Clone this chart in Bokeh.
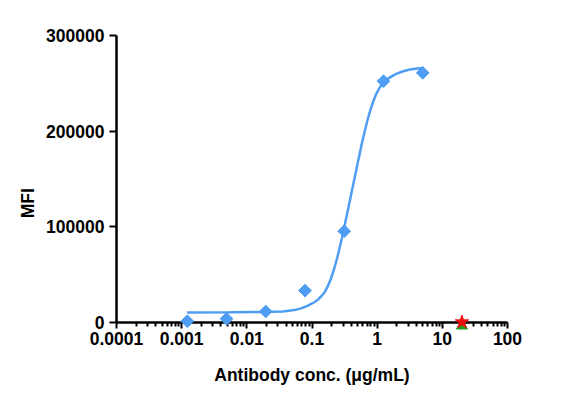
from bokeh.plotting import figure
from bokeh.models import FixedTicker, CustomJSTickFormatter
from bokeh.embed import file_html
from bokeh.resources import INLINE
import math

# measured points (4-fold dilution from 5 ug/mL)
conc = [0.00122, 0.00488, 0.0195, 0.078, 0.3125, 1.25, 5.0]
mfi = [1400, 3900, 11500, 33400, 95400, 252200, 261000]

# fitted curve
fit_conc = [0.001214, 0.0056, 0.0162, 0.0354, 0.0537, 0.0698, 0.0868, 0.1066,
            0.1232, 0.1379, 0.1561, 0.1735, 0.1929, 0.216, 0.2435, 0.2895,
            0.3453, 0.4121, 0.4917, 0.5867, 0.6976, 0.7863, 0.8808, 0.979,
            1.088, 1.227, 1.379, 1.594, 1.956, 2.435, 3.162, 4.797]
fit_mfi = [10450, 10660, 10980, 11390, 12960, 15050, 17670, 20910,
           23830, 27180, 31570, 37420, 44950, 54880, 67420, 88850,
           113400, 138500, 163600, 188200, 209600, 222100, 232100, 239600,
           245400, 250200, 253600, 256500, 259800, 262400, 264500, 266000]

# controls at 20 ug/mL
ctrl_conc = [20.0]
ctrl_star = [500]
ctrl_tri = [-3500]

x_ticks = [0.0001, 0.001, 0.01, 0.1, 1, 10, 100]
y_ticks = [0, 100000, 200000, 300000]

BLUE = "#4e9df2"
FONT = "Liberation Sans"

p = figure(width=556, height=398, x_axis_type="log",
           x_range=(0.0001, 100), y_range=(0, 300000),
           output_backend="svg", toolbar_location=None,
           min_border_left=116, min_border_right=49,
           min_border_top=35, min_border_bottom=76)
p.outline_line_color = None
p.grid.visible = False

p.line(fit_conc, fit_mfi, line_color=BLUE, line_width=2.5)
pts = p.scatter(conc, mfi, marker="square", angle=math.pi / 4, size=9,
                fill_color=BLUE, line_color=BLUE)
tri = p.scatter(ctrl_conc, ctrl_tri, marker="triangle", size=11,
                fill_color="#22a020", line_color="#22a020")
star = p.scatter(ctrl_conc, ctrl_star, marker="star", size=14,
                 fill_color="#f01010", line_color="#f01010")
for r in (pts, tri, star):
    r.level = "overlay"

minor = []
for k in range(-4, 2):
    for m in range(2, 10):
        minor.append(m * 10 ** k)

for ax in (p.xaxis[0], p.yaxis[0]):
    ax.axis_line_width = 2.5
    ax.axis_line_color = "black"
    ax.major_tick_line_width = 2
    ax.minor_tick_line_width = 2
    ax.major_tick_in = 0
    ax.minor_tick_in = 0
    ax.major_label_text_font = FONT
    ax.major_label_text_font_style = "bold"
    ax.major_label_text_font_size = "17.5px"
    ax.major_label_text_color = "black"
    ax.axis_label_text_font = FONT
    ax.axis_label_text_font_style = "bold"
    ax.axis_label_text_font_size = "17.5px"
    ax.axis_label_text_color = "black"

p.xaxis.ticker = FixedTicker(ticks=x_ticks, minor_ticks=minor)
p.xaxis.formatter = CustomJSTickFormatter(code="return Number(tick.toPrecision(6)).toString();")
p.xaxis.major_tick_out = 6
p.xaxis.minor_tick_out = 4
p.xaxis.major_label_standoff = 3
p.xaxis.axis_label = "Antibody conc. (μg/mL)"
p.xaxis.axis_label_standoff = 17

p.yaxis.ticker = FixedTicker(ticks=y_ticks)
p.yaxis.formatter = CustomJSTickFormatter(code="return tick.toFixed(0);")
p.yaxis.major_tick_out = 7
p.yaxis.minor_tick_out = 0
p.yaxis.major_label_standoff = 5
# trailing no-break spaces push the label down, as in the original
p.yaxis.axis_label = "MFI" + "\u00a0" * 10
p.yaxis.axis_label_standoff = 5

open("out.html", "w").write(file_html(p, INLINE))
